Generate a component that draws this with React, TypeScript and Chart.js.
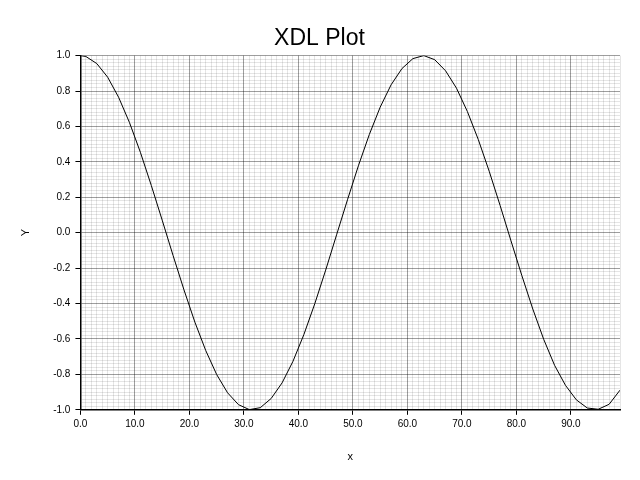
import React, { useEffect, useRef } from "react";
import { Chart, registerables } from "chart.js";

Chart.register(...registerables);

const titleText = "XDL Plot";
const xAxisTitle = "x";
const yAxisTitle = "Y";

const xValues = [
  0, 1, 3, 5, 7, 9, 11, 13, 15, 17, 19, 21, 23, 25, 27, 29, 31, 33, 35, 37, 39,
  41, 43, 45, 47, 49, 51, 53, 55, 57, 59, 61, 63, 65, 67, 69, 71, 73, 75, 77, 79,
  81, 83, 85, 87, 89, 91, 93, 95, 97, 99,
];
const yValues = [
  1.0, 0.995, 0.955, 0.878, 0.765, 0.622, 0.454, 0.267, 0.071, -0.129, -0.323,
  -0.505, -0.666, -0.801, -0.904, -0.971, -0.999, -0.988, -0.936, -0.848, -0.726,
  -0.575, -0.401, -0.211, -0.012, 0.186, 0.378, 0.554, 0.709, 0.835, 0.927,
  0.983, 1.0, 0.977, 0.914, 0.816, 0.684, 0.526, 0.347, 0.154, -0.046,
  -0.243, -0.431, -0.602, -0.749, -0.862, -0.944, -0.99, -0.997, -0.969, -0.889,
];

const xMin = 0;
const xMax = 99;
const yMin = -1;
const yMax = 1;

const FONT = "'Liberation Sans', Arial, sans-serif";
const MAJOR = "rgba(0,0,0,0.38)";
const MINOR = "rgba(0,0,0,0.1)";

export default function App() {
  const ref = useRef<HTMLCanvasElement | null>(null);
  useEffect(() => {
    if (!ref.current) return;
    const isMajorX = (v: number) => Math.round(v) % 10 === 0;
    const isMajorY = (v: number) => Math.round(v * 50) % 10 === 0;
    const chart = new Chart(ref.current, {
      type: "line",
      data: {
        datasets: [
          {
            data: xValues.map((x, i) => ({ x, y: yValues[i] })),
            borderColor: "#000",
            borderWidth: 1,
            pointRadius: 0,
            fill: false,
            tension: 0,
          },
        ],
      },
      options: {
        responsive: false,
        animation: false,
        layout: { padding: { top: 0, right: 20, bottom: 16, left: 19 } },
        plugins: {
          legend: { display: false },
          tooltip: { enabled: false },
          title: {
            display: true,
            text: titleText,
            color: "#000",
            font: { family: FONT, size: 23, weight: "normal" },
            padding: { top: 25, bottom: 3 },
          },
        },
        scales: {
          x: {
            type: "linear",
            min: xMin,
            max: xMax,
            border: { color: "#000", width: 1.5 },
            grid: {
              color: (c: any) => (isMajorX(c.tick.value) ? MAJOR : MINOR),
              tickColor: (c: any) => (isMajorX(c.tick.value) ? "#000" : "rgba(0,0,0,0)"),
              tickLength: 5,
              lineWidth: 1,
            },
            ticks: {
              stepSize: 1,
              autoSkip: false,
              maxRotation: 0,
              minRotation: 0,
              color: "#000",
              padding: 3,
              font: { family: FONT, size: 10 },
              callback: (v: any) => (isMajorX(Number(v)) ? Number(v).toFixed(1) : ""),
            },
            title: {
              display: true,
              text: xAxisTitle,
              color: "#000",
              font: { family: FONT, size: 11 },
              padding: { top: 18, bottom: 0 },
            },
          },
          y: {
            type: "linear",
            min: yMin,
            max: yMax,
            border: { color: "#000", width: 1.5 },
            grid: {
              color: (c: any) => (isMajorY(c.tick.value) ? MAJOR : MINOR),
              tickColor: (c: any) => (isMajorY(c.tick.value) ? "#000" : "rgba(0,0,0,0)"),
              tickLength: 5,
              lineWidth: 1,
            },
            ticks: {
              stepSize: 0.02,
              autoSkip: false,
              maxTicksLimit: 1000,
              color: "#000",
              padding: 5,
              font: { family: FONT, size: 10 },
              callback: (v: any) => (isMajorY(Number(v)) ? Number(v).toFixed(1) : ""),
            },
            title: {
              display: true,
              text: yAxisTitle,
              color: "#000",
              font: { family: FONT, size: 11 },
              padding: { top: 0, bottom: 16 },
            },
          },
        },
      } as any,
    });
    return () => chart.destroy();
  }, []);
  return (
    <div style={{ position: "absolute", left: 0, top: 0, width: 640, height: 480, background: "#fff" }}>
      <canvas ref={ref} width={640} height={480} style={{ display: "block" }} />
    </div>
  );
}
